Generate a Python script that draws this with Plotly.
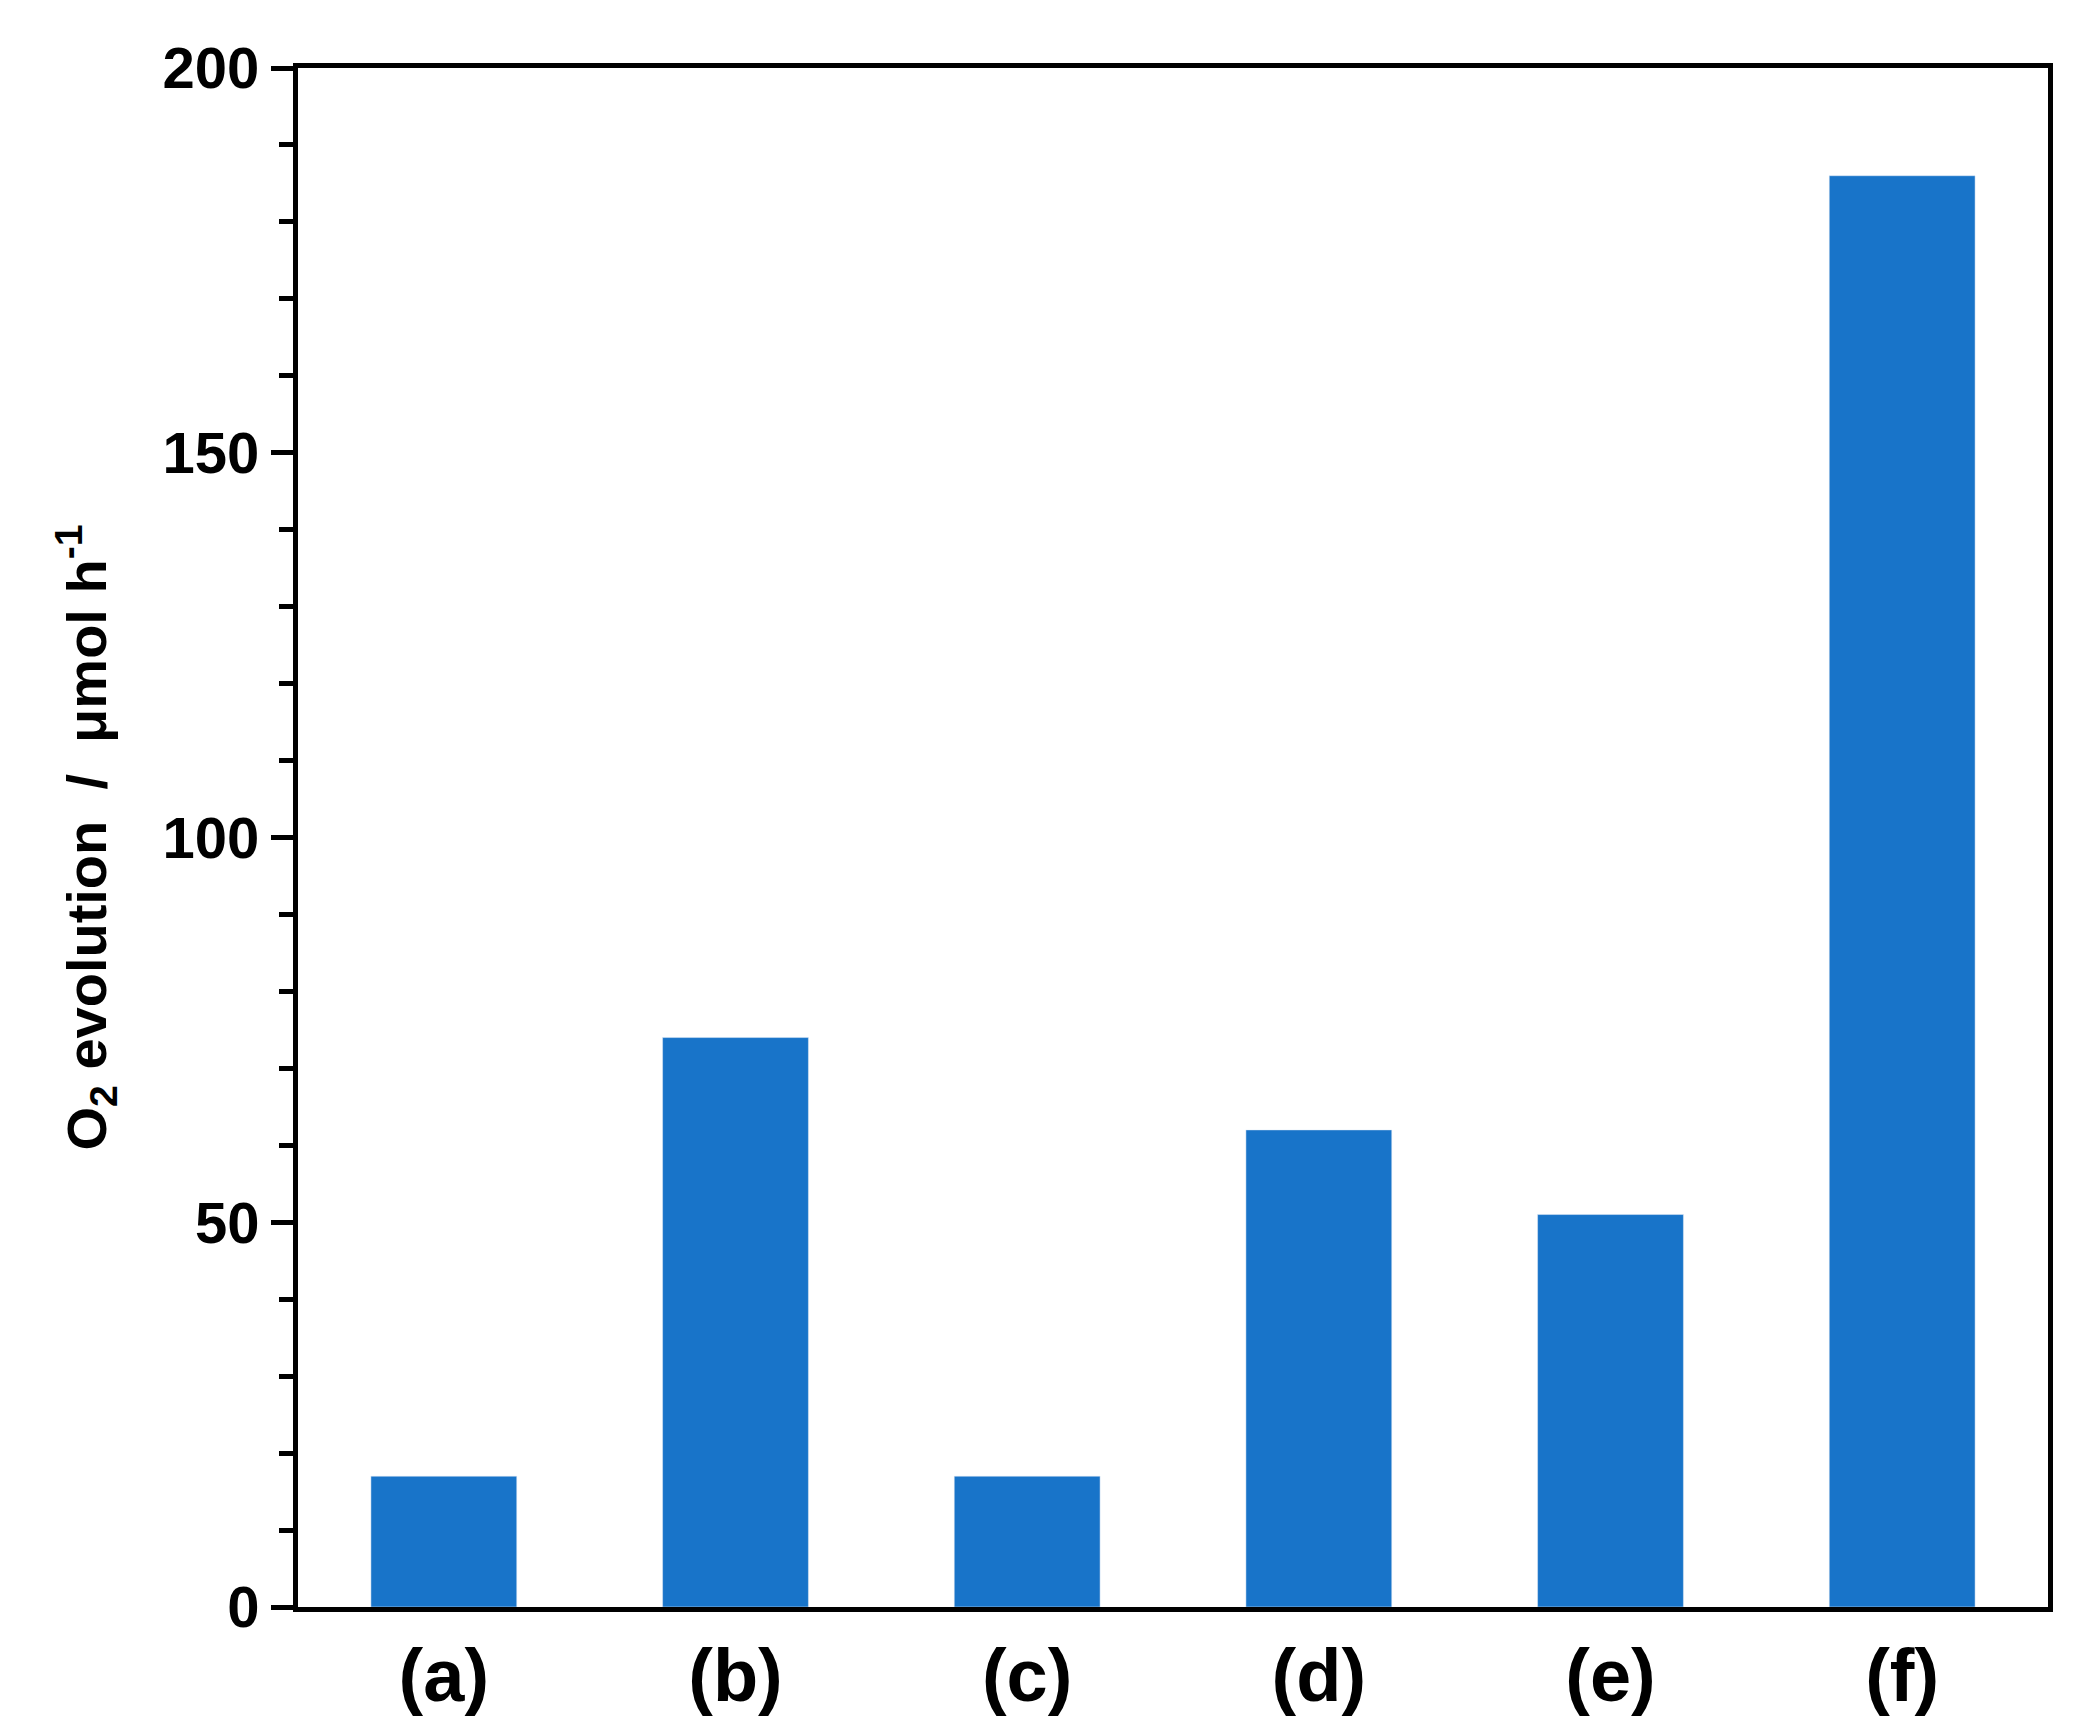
import plotly.graph_objects as go

categories = ["(a)", "(b)", "(c)", "(d)", "(e)", "(f)"]
values = [17, 74, 17, 62, 51, 186]
tick_vals = [0, 50, 100, 150, 200]

fig = go.Figure(go.Bar(x=categories, y=values, marker_color="#1874C9", width=0.5))
font = "Liberation Sans, Arial, sans-serif"
fig.update_layout(
    width=2078, height=1721, plot_bgcolor="white", paper_bgcolor="white",
    margin=dict(l=290, r=38, t=60, b=120), showlegend=False,
    font=dict(family=font, color="black"),
)
fig.update_xaxes(showline=True, linewidth=5, linecolor="black", mirror=True, ticks="",
                 tickfont=dict(size=74, family=font, weight="bold"))
fig.update_yaxes(range=[0, 200], tickvals=tick_vals, showline=True, linewidth=5, linecolor="black",
                 mirror=True, ticks="outside", ticklen=22, tickwidth=5, tickcolor="black",
                 showgrid=False, zeroline=False,
                 minor=dict(dtick=10, ticks="outside", ticklen=14, tickwidth=5, tickcolor="black"),
                 tickfont=dict(size=58, family=font, weight="bold"),
                 title=dict(text="O<sub>2</sub> evolution  /  μmol h<sup>-1</sup>", standoff=40,
                            font=dict(size=56, family=font, weight="bold")))
fig.write_html("out.html")
